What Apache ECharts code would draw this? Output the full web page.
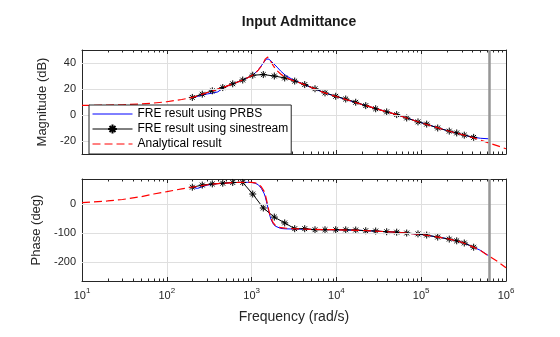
<!DOCTYPE html>
<html><head><meta charset="utf-8">
<script src="https://cdn.jsdelivr.net/npm/echarts@6/dist/echarts.min.js"></script>
<style>html,body{margin:0;padding:0;background:#fff}#c{width:560px;height:337px}</style>
</head><body><div id="c"></div>
<script>
const titleText = 'Input Admittance';
const magLabel = 'Magnitude (dB)';
const phaseLabel = 'Phase (deg)';
const freqLabel = 'Frequency (rad/s)';
const legendNames = ['FRE result using PRBS', 'FRE result using sinestream', 'Analytical result'];
const xTickValues = [10, 100, 1000, 10000, 100000, 1000000];
const minorTickValues = [20,30,40,50,60,70,80,90,200,300,400,500,600,700,800,900,2000,3000,4000,5000,6000,7000,8000,9000,20000,30000,40000,50000,60000,70000,80000,90000,200000,300000,400000,500000,600000,700000,800000,900000];
const magTicks = [-20, 0, 20, 40];
const phaseTicks = [-200, -100, 0];
const nyquistFreq = [628318.5];

const freqAnalytic = [10,20,30,50,70,100,150,200,300,400,500,600,700,800,900,1000,1100,1200,1300,1400,1450,1500,1550,1600,1650,1700,1800,1900,2000,2200,2500,3000,4000,5000,7000,10000,20000,50000,100000,200000,300000,400000,500000,630000,800000,1000000];
const magAnalytic = [7.4,7.6,7.9,8.5,9.2,10.2,11.9,13.5,17.3,19.9,22.0,24.0,25.6,27.2,28.7,30.2,32.0,34.5,37.5,41.0,43.0,44.3,44.6,43.8,42.3,40.8,38.0,35.8,34.0,31.5,29.0,26.8,23.9,21.3,17.4,14.2,8.1,0.5,-6.0,-11.9,-15.0,-17.3,-19.3,-21.6,-23.8,-26.0];
const phaseAnalytic = [5.5,11,16,26,35,43,53,58.6,67,71,73,74.5,75,75.5,75.5,75,73.5,70,60,45,33,15,-5,-23,-38,-50,-65,-73,-78,-81.5,-83,-84.5,-86,-87,-88,-88.6,-91,-97,-105,-119,-132,-147,-160,-180,-199,-220];

const freqPRBS = [200,230,260,300,350,400,450,500,600,700,800,900,1000,1100,1200,1300,1400,1450,1500,1550,1600,1650,1700,1800,1900,2000,2200,2500,3000,4000,5000,7000,10000,20000,50000,100000,200000,300000,400000,500000,620000];
const magPRBS = [13.2,14.3,15.2,16.2,16.9,17.8,20.3,21.8,24,25.6,27.2,28.7,30.3,32.2,34.8,37.8,40.8,42.2,43.1,43.3,42.9,42.2,41.4,39.8,38.3,36.8,33.8,30.6,27.5,24,21.3,17.4,14.2,8.1,0.5,-5.9,-11.9,-15,-17,-17.9,-18.3];
const phasePRBS = [58,54.5,60,66,69,71,72,73,74.5,75,75.5,75.5,75,72.5,67,55,38,25,8,-10,-27,-42,-54,-68,-76,-80.5,-84,-85.5,-86,-86.5,-87.5,-88,-88.6,-91,-97,-105,-119,-132,-146.5,-160,-178];

const freqSine = [200,262,344,457,599,786,1031,1374,1853,2456,3223,4229,5594,7340,9820,12880,16900,22180,29060,39170,51400,67450,91660,116100,156600,214300,262300,322000,415600];
const magSine = [13.5,16,18.6,21.1,24,26.9,30.6,31.1,30,28.5,26.1,23.4,20.2,17,14.4,12.3,9.8,7.2,4.8,2.4,0.3,-2.3,-5.3,-7,-10,-12.4,-13.8,-15.5,-17.2];
const phaseSine = [58.6,66,70,72.4,75,75,35,-13.3,-44.8,-65,-85,-85,-88.6,-88.6,-88.6,-89,-89.5,-92,-93,-95.5,-97,-100,-103,-107,-114,-121,-127,-134.5,-149];

const FONT = "'Liberation Sans', Arial, Helvetica, sans-serif";
const AX = '#262626';
const GRIDC = '#dfdfdf';
const pair = (xs, ys) => xs.map((x, i) => [x, ys[i]]);
const asterisk = 'path://M5,0L5,10M0,5L10,5M1.6,1.6L8.4,8.4M1.6,8.4L8.4,1.6';

function xAx(gridIndex, pos, labels) {
  return {
    type: 'log', logBase: 10, min: 10, max: 1000000, gridIndex, position: pos,
    splitNumber: 5,
    axisLine: { show: true, onZero: false, lineStyle: { color: AX, width: 1 } },
    axisTick: { show: true, inside: true, length: 4, lineStyle: { color: AX } },
    splitLine: { show: pos === 'bottom', lineStyle: { color: GRIDC, width: 1 } },
    minorTick: { show: false }, minorSplitLine: { show: false },
    axisLabel: labels ? {
      show: true, margin: 6, color: AX, fontFamily: FONT,
      formatter: v => '{b|10}{s|' + Math.round(Math.log10(v)) + '}',
      rich: {
        b: { fontSize: 11, fontFamily: FONT, color: AX, lineHeight: 14, verticalAlign: 'bottom' },
        s: { fontSize: 8, fontFamily: FONT, color: AX, lineHeight: 8, verticalAlign: 'top' }
      }
    } : { show: false },
    name: labels ? freqLabel : '', nameLocation: 'middle', nameGap: 29,
    nameTextStyle: { fontSize: 14, fontFamily: FONT, color: AX }
  };
}
function yAx(gridIndex, pos, min, max, ticks, name) {
  return {
    type: 'value', gridIndex, position: pos, min, max,
    axisLine: { show: true, onZero: false, lineStyle: { color: AX, width: 1 } },
    axisTick: { show: true, inside: true, length: 4, customValues: ticks, lineStyle: { color: AX } },
    splitLine: { show: false },
    axisLabel: name ? { show: true, customValues: ticks, margin: 6, fontSize: 11, fontFamily: FONT, color: AX } : { show: false },
    name: name || '', nameLocation: 'middle', nameGap: 26, nameRotate: 90,
    nameTextStyle: { fontSize: 13, fontFamily: FONT, color: AX }
  };
}
function minorTicks(params, api) {
  const x = Math.round(api.coord([api.value(0), api.value(1)])[0]) + 0.5;
  const cs = params.coordSys;
  const st = { stroke: AX, lineWidth: 1 };
  return { type: 'group', children: [
    { type: 'line', shape: { x1: x, y1: cs.y + cs.height, x2: x, y2: cs.y + cs.height - 2.5 }, style: st },
    { type: 'line', shape: { x1: x, y1: cs.y, x2: x, y2: cs.y + 2.5 }, style: st }
  ] };
}
function nyq() {
  return { silent: true, symbol: ['none', 'none'], label: { show: false },
    lineStyle: { color: '#969696', width: 2.5, type: 'solid' },
    data: nyquistFreq.map(v => ({ xAxis: v })) };
}
function gridLines(ticks) {
  return { silent: true, symbol: ['none', 'none'], label: { show: false },
    lineStyle: { color: GRIDC, width: 1, type: 'solid' },
    data: ticks.map(v => ({ yAxis: v })) };
}
function seriesFor(xi, yi, magOrPhase) {
  const isMag = magOrPhase === 'mag';
  const A = isMag ? magAnalytic : phaseAnalytic;
  const P = isMag ? magPRBS : phasePRBS;
  const S = isMag ? magSine : phaseSine;
  return [
    { type: 'line', xAxisIndex: xi, yAxisIndex: yi, data: [], symbol: 'none', silent: true,
      markLine: gridLines(isMag ? magTicks : phaseTicks), z: 0 },
    { name: legendNames[0], type: 'line', xAxisIndex: xi, yAxisIndex: yi, data: pair(freqPRBS, P),
      symbol: 'none', lineStyle: { color: '#0000ff', width: 1 }, itemStyle: { color: '#0000ff' }, markLine: nyq(), z: 2 },
    { name: legendNames[1], type: 'line', xAxisIndex: xi, yAxisIndex: yi, data: pair(freqSine, S),
      symbol: asterisk, symbolSize: 7, showSymbol: true,
      lineStyle: { color: '#000000', width: 1 }, itemStyle: { color: '#000000', borderColor: '#000000', borderWidth: 1 }, z: 3 },
    { name: legendNames[2], type: 'line', xAxisIndex: xi, yAxisIndex: yi, data: pair(freqAnalytic, A),
      symbol: 'none', lineStyle: { color: '#ff0000', width: 1.2, type: [8, 4] }, itemStyle: { color: '#ff0000' }, z: 4 },
    { type: 'custom', xAxisIndex: xi, yAxisIndex: yi, silent: true, renderItem: minorTicks,
      data: minorTickValues.map(v => [v, 0]), z: 5 }
  ];
}

const hiddenSym = { color: 'rgba(0,0,0,0)', borderColor: 'rgba(0,0,0,0)', borderWidth: 0, opacity: 0 };
const chart = echarts.init(document.getElementById('c'), null, { renderer: 'canvas' });
chart.setOption({
  animation: false,
  backgroundColor: '#ffffff',
  textStyle: { fontFamily: FONT },
  title: { text: titleText, left: 294, top: 10, textAlign: 'center',
    textStyle: { fontSize: 14, fontWeight: 'bold', fontFamily: FONT, color: '#1a1a1a' } },
  legend: {
    data: [{ name: legendNames[0], itemStyle: hiddenSym }, { name: legendNames[1] }, { name: legendNames[2], itemStyle: hiddenSym }],
    orient: 'vertical', left: 89, top: 105, padding: [3, 3, 4, 3], itemGap: 3,
    itemWidth: 40, itemHeight: 11, backgroundColor: '#ffffff', borderColor: AX, borderWidth: 1, borderRadius: 0,
    lineStyle: { width: 1 },
    textStyle: { fontSize: 12, color: '#000', fontFamily: FONT }, selectedMode: false, z: 10
  },
  grid: [
    { left: 82, top: 50, width: 424, height: 104 },
    { left: 82, top: 179, width: 424, height: 102 }
  ],
  xAxis: [xAx(0, 'bottom', false), xAx(0, 'top', false), xAx(1, 'bottom', true), xAx(1, 'top', false)],
  yAxis: [yAx(0, 'left', -30, 50, magTicks, magLabel), yAx(0, 'right', -30, 50, magTicks, null),
          yAx(1, 'left', -266, 87, phaseTicks, phaseLabel), yAx(1, 'right', -266, 87, phaseTicks, null)],
  series: [...seriesFor(0, 0, 'mag'), ...seriesFor(2, 2, 'phase')]
});
</script></body></html>
